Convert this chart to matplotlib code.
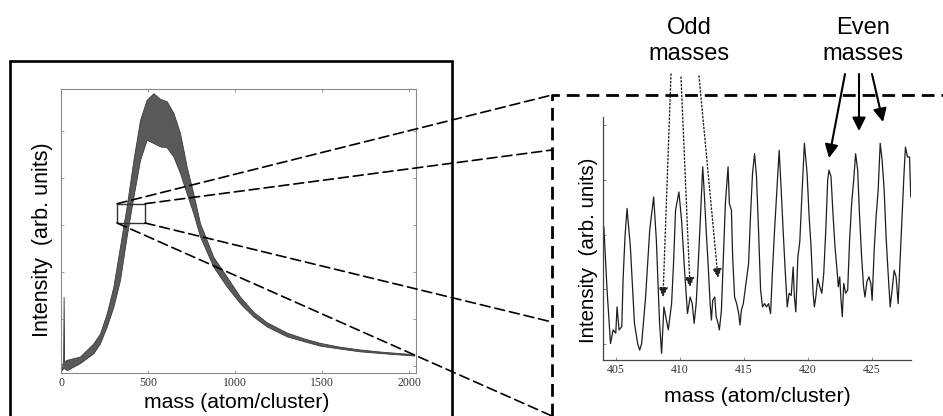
import numpy as np
import matplotlib
matplotlib.use('Agg')
import matplotlib.pyplot as plt
from matplotlib.patches import Rectangle, ConnectionPatch

plt.rcParams['font.family'] = ['Liberation Sans', 'DejaVu Sans']

# overview spectrum: upper / lower edge of the dense band of peaks
mass_all = [4, 12, 15, 18, 33, 109, 186, 224, 263, 301, 339, 377, 416, 454, 492, 531,
            569, 607, 646, 684, 722, 760, 799, 837, 875, 952, 1029, 1105, 1182, 1297,
            1400, 1489, 1600, 1718, 1850, 2030]
upper_all = [0.13, 0.25, 1.62, 0.25, 0.28, 0.35, 0.63, 0.84, 1.27, 1.84, 2.69, 3.54, 4.53,
             5.38, 5.81, 5.95, 5.83, 5.78, 5.53, 5.10, 4.39, 3.82, 3.18, 2.83, 2.47, 2.05,
             1.62, 1.30, 1.08, 0.86, 0.73, 0.64, 0.56, 0.50, 0.45, 0.40]
lower_all = [0.06, 0.10, 0.10, 0.10, 0.06, 0.21, 0.42, 0.63, 0.99, 1.41, 1.98, 2.90, 3.75,
             4.53, 4.96, 4.89, 4.82, 4.80, 4.60, 4.25, 3.82, 3.40, 2.90, 2.58, 2.26, 1.84,
             1.48, 1.20, 0.99, 0.78, 0.67, 0.58, 0.52, 0.46, 0.42, 0.37]

# zoomed spectrum 404-428
mass_zoom = [404.07, 404.22, 404.32, 404.59, 404.79, 405.00, 405.10, 405.26, 405.47, 405.57,
             405.72, 405.88, 406.14, 406.46, 406.71, 406.87, 407.02, 407.33, 407.65, 407.96,
             408.17, 408.42, 408.58, 408.76, 409.10, 409.36, 409.51, 409.67, 409.93, 410.14,
             410.39, 410.60, 410.81, 410.97, 411.12, 411.28, 411.44, 411.59, 411.79, 411.90,
             412.06, 412.21, 412.37, 412.47, 412.57, 412.73, 412.84, 412.99, 413.09, 413.25,
             413.40, 413.56, 413.77, 413.87, 414.03, 414.13, 414.28, 414.44, 414.60, 414.70,
             414.81, 414.96, 415.17, 415.37, 415.53, 415.68, 415.84, 415.99, 416.15, 416.31,
             416.46, 416.62, 416.77, 416.93, 417.09, 417.24, 417.40, 417.55, 417.76, 417.92,
             418.07, 418.23, 418.39, 418.54, 418.70, 418.85, 418.95, 419.06, 419.22, 419.37,
             419.53, 419.73, 419.94, 420.10, 420.25, 420.41, 420.51, 420.62, 420.77, 420.93,
             421.09, 421.24, 421.40, 421.55, 421.65, 421.81, 421.96, 422.12, 422.28, 422.38,
             422.49, 422.59, 422.69, 422.80, 422.95, 423.11, 423.26, 423.42, 423.58, 423.73,
             423.89, 424.04, 424.20, 424.35, 424.46, 424.61, 424.77, 424.92, 425.02, 425.18,
             425.33, 425.49, 425.65, 425.80, 425.96, 426.11, 426.27, 426.43, 426.58, 426.74,
             426.89, 427.05, 427.20, 427.36, 427.51, 427.62, 427.78, 427.94, 428.04]
int_zoom = [3.14, 2.47, 1.99, 1.01, 1.26, 1.20, 1.68, 1.26, 1.32, 2.17,
            2.96, 3.48, 2.78, 1.38, 1.01, 0.89, 1.01, 1.86, 3.08, 3.69,
            2.90, 1.38, 0.83, 1.68, 1.26, 1.74, 2.47, 3.45, 3.78, 3.26,
            2.29, 1.56, 1.86, 1.74, 1.38, 1.74, 2.47, 3.20, 4.24, 3.81,
            3.08, 2.47, 1.74, 1.44, 1.80, 1.86, 1.50, 1.38, 1.26, 1.62,
            2.59, 3.57, 4.24, 3.57, 3.45, 2.59, 1.86, 1.74, 1.56, 1.35,
            1.62, 1.74, 2.11, 2.47, 3.39, 4.12, 4.48, 4.06, 3.08, 1.99,
            1.68, 1.74, 1.68, 1.74, 1.56, 2.35, 3.08, 3.69, 4.54, 3.81,
            3.08, 2.35, 1.68, 1.93, 1.89, 2.41, 1.86, 1.59, 2.59, 2.87,
            3.69, 4.67, 4.12, 3.33, 2.78, 1.93, 1.68, 1.86, 2.20, 2.05,
            1.93, 2.29, 3.08, 4.00, 4.18, 4.06, 3.39, 2.78, 2.35, 2.05,
            2.23, 1.80, 1.50, 2.11, 1.93, 1.99, 2.90, 3.57, 4.00, 4.48,
            4.18, 3.33, 2.59, 2.05, 1.86, 2.14, 2.23, 2.11, 1.80, 2.72,
            3.33, 3.81, 4.67, 4.36, 3.81, 2.96, 2.29, 1.68, 1.99, 2.35,
            2.23, 1.74, 2.53, 3.33, 4.12, 4.60, 4.42, 4.42, 3.69]

ticks_all = [0, 500, 1000, 1500, 2000]
ticks_zoom = [405, 410, 415, 420, 425]
box_mass = (322, 483)
box_int = (3.19, 3.60)

fig = plt.figure(figsize=(9.43, 4.16), dpi=100)

# ---- left: full spectrum
ax1 = fig.add_axes([0.0647, 0.1034, 0.3765, 0.6827])
ax1.fill_between(mass_all, lower_all, upper_all, color='#5a5a5a', lw=0.6, edgecolor='#3a3a3a')
ax1.set_xlim(0, 2040)
ax1.set_ylim(0, 6.04)
ax1.set_xticks(ticks_all)
ax1.set_yticks(np.arange(6) + 0.15)
ax1.set_yticklabels([])
ax1.tick_params(direction='in', length=2.5, width=0.6, color='#888888', top=True, right=True,
                labelsize=8.5, labelcolor='#333333', pad=3, labelfontfamily='Liberation Serif')
for sp in ax1.spines.values():
    sp.set_color('#8a8a8a')
    sp.set_linewidth(0.8)

ax1.add_patch(Rectangle((box_mass[0], box_int[0]), box_mass[1] - box_mass[0],
                        box_int[1] - box_int[0], fill=False, edgecolor='#333333', lw=1.0, zorder=5))

# ---- right: zoomed spectrum
ax2 = fig.add_axes([0.6394, 0.1346, 0.3266, 0.5841])
ax2.plot(mass_zoom, int_zoom, color='#1e1e1e', lw=0.9)
ax2.set_xlim(404.0, 428.05)
ax2.set_ylim(0.71, 5.15)
ax2.set_xticks(ticks_zoom)
ax2.set_yticks([1, 2, 3, 4, 5])
ax2.set_yticklabels([])
ax2.tick_params(direction='in', length=2.5, width=0.6, color='#777777',
                labelsize=8.5, labelcolor='#333333', pad=3, labelfontfamily='Liberation Serif')
ax2.spines['top'].set_visible(False)
ax2.spines['right'].set_visible(False)
for s in ['left', 'bottom']:
    ax2.spines[s].set_color('#444444')
    ax2.spines[s].set_linewidth(0.9)

# ---- overlay in pixel coordinates for frames, labels and arrows
ov = fig.add_axes([0, 0, 1, 1], zorder=10)
ov.set_xlim(0, 943)
ov.set_ylim(416, 0)
ov.axis('off')

ov.plot([10, 10, 452, 452], [416, 61, 61, 416], color='k', lw=1.9, solid_joinstyle='miter')
ov.plot([552, 552, 943], [416, 95, 95], color='k', lw=2.0, dashes=(4.6, 2.5))

# zoom lines from box corners to the dashed frame
corners = [((box_mass[0], box_int[1]), (552, 95)),
           ((box_mass[1], box_int[1]), (552, 150)),
           ((box_mass[1], box_int[0]), (552, 322)),
           ((box_mass[0], box_int[0]), (552, 416))]
for a, b in corners:
    con = ConnectionPatch(xyA=a, coordsA=ax1.transData, xyB=b, coordsB=ov.transData,
                          color='k', lw=1.2, linestyle=(0, (6, 3)))
    ov.add_artist(con)

ov.text(43, 240, 'Intensity  (arb. units)', rotation=90, ha='center', va='center', fontsize=15.5)
ov.text(237, 403, 'mass (atom/cluster)', ha='center', va='center', fontsize=15.2)
ov.text(588, 250, 'Intensity  (arb. units)', rotation=90, ha='center', va='center', fontsize=14.8)
ov.text(757, 397, 'mass (atom/cluster)', ha='center', va='center', fontsize=15.3)

ov.text(689, 41, 'Odd\nmasses', ha='center', va='center', fontsize=17)
ov.text(863, 41, 'Even\nmasses', ha='center', va='center', fontsize=17)

odd_arrows = [((671, 74), (663, 297)), ((681, 77), (690, 287)), ((699, 76), (718, 278))]
for tail, tip in odd_arrows:
    ov.annotate('', xy=tip, xytext=tail,
                arrowprops=dict(arrowstyle='-|>', color='#222222', lw=1.0, linestyle=':',
                                mutation_scale=14, shrinkA=0, shrinkB=0))

even_arrows = [((845, 74), (829, 158)), ((859, 74), (859, 131)), ((872, 74), (883, 122))]
for tail, tip in even_arrows:
    ov.annotate('', xy=tip, xytext=tail,
                arrowprops=dict(arrowstyle='-|>', color='k', lw=1.5,
                                mutation_scale=20, shrinkA=0, shrinkB=0))

fig.savefig('out.png', dpi=100)
